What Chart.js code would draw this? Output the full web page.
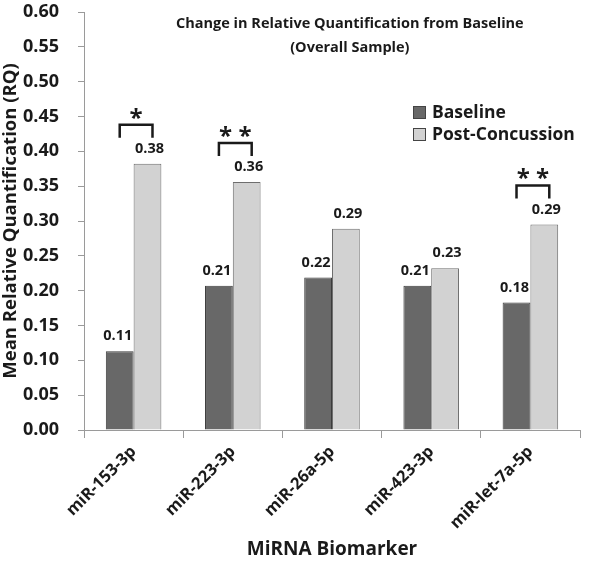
<!DOCTYPE html>
<html>
<head>
<meta charset="utf-8">
<script src="https://cdn.jsdelivr.net/npm/chart.js@4"></script>
<style>
  html, body { margin: 0; padding: 0; background: #fff; }
  #wrap { width: 600px; height: 561px; position: relative; }
</style>
</head>
<body>
<div id="wrap"><canvas id="chart"></canvas></div>
<script>
/* Change in relative quantification — grouped bars with significance brackets */

const categories     = ['miR-153-3p', 'miR-223-3p', 'miR-26a-5p', 'miR-423-3p', 'miR-let-7a-5p'];
const baseline       = [0.113, 0.207, 0.219, 0.207, 0.183];
const postConcussion = [0.382, 0.356, 0.289, 0.232, 0.295];
const baselineLabels = ['0.11', '0.21', '0.22', '0.21', '0.18'];
const postLabels     = ['0.38', '0.36', '0.29', '0.23', '0.29'];
const sigMarks       = ['*', '**', '', '', '**'];
const seriesNames    = ['Baseline', 'Post-Concussion'];
const titleLines     = ['Change in Relative Quantification from Baseline', '(Overall Sample)'];

const FONT = '"Open Sans", "Noto Sans", sans-serif';
const INK = '#1a1a1a';
const COL_BASE = '#686868';
const COL_POST = '#d2d2d2';

const overlay = {
  id: 'overlay',
  afterDatasetsDraw(chart) {
    const { ctx, chartArea } = chart;
    const m0 = chart.getDatasetMeta(0).data;
    const m1 = chart.getDatasetMeta(1).data;
    ctx.save();
    ctx.fillStyle = INK;
    ctx.textAlign = 'center';
    ctx.textBaseline = 'middle';

    /* value labels */
    ctx.font = 'bold 14.5px ' + FONT;
    m0.forEach((b, i) => ctx.fillText(baselineLabels[i], b.x - 2, b.y - 15));
    m1.forEach((b, i) => ctx.fillText(postLabels[i], b.x + 2, b.y - 15));

    /* significance brackets */
    ctx.strokeStyle = INK;
    ctx.lineWidth = 2.5;
    sigMarks.forEach((mark, i) => {
      if (!mark) return;
      const x0 = m0[i].x, x1 = m1[i].x + 5;
      const top = m1[i].y - 39;
      ctx.beginPath();
      ctx.moveTo(x0, top + 13);
      ctx.lineTo(x0, top);
      ctx.lineTo(x1, top);
      ctx.lineTo(x1, top + 13);
      ctx.stroke();
      ctx.font = 'bold 24px ' + FONT;
      ctx.fillText(mark.split('').join(' '), (x0 + x1) / 2, top - 6);
    });

    /* title */
    ctx.font = 'bold 14.5px ' + FONT;
    const cx = chartArea.left + (chartArea.right - chartArea.left) * 0.536;
    ctx.fillText(titleLines[0], cx, chartArea.top + 12);
    ctx.fillText(titleLines[1], cx, chartArea.top + 36);

    /* legend */
    ctx.font = 'bold 17.5px ' + FONT;
    ctx.textAlign = 'left';
    const lx = chartArea.right - 167;
    [COL_BASE, COL_POST].forEach((c, i) => {
      const ly = chartArea.top + 100 + i * 22;
      ctx.fillStyle = c;
      ctx.fillRect(lx, ly - 6, 13, 13);
      ctx.strokeStyle = '#444';
      ctx.lineWidth = 1;
      ctx.strokeRect(lx + 0.5, ly - 5.5, 12, 12);
      ctx.fillStyle = INK;
      ctx.fillText(seriesNames[i], lx + 19, ly + 1);
    });
    ctx.restore();
  }
};

new Chart(document.getElementById('chart'), {
  type: 'bar',
  data: {
    labels: categories,
    datasets: [
      { label: seriesNames[0], data: baseline, backgroundColor: COL_BASE, borderColor: '#3c3c3c', borderWidth: 1 },
      { label: seriesNames[1], data: postConcussion, backgroundColor: COL_POST, borderColor: '#6e6e6e', borderWidth: 1 },
    ],
  },
  options: {
    responsive: true,
    maintainAspectRatio: false,
    animation: false,
    layout: { padding: { top: 12, right: 20, left: 0, bottom: 0 } },
    plugins: { legend: { display: false }, tooltip: { enabled: false } },
    datasets: { bar: { categoryPercentage: 0.56, barPercentage: 1.0 } },
    scales: {
      x: {
        offset: true,
        grid: { offset: true, drawOnChartArea: false, tickLength: 8, color: '#9a9a9a' },
        border: { color: '#9a9a9a', width: 1 },
        ticks: { color: INK, font: { family: FONT, size: 16.5, weight: 'bold' }, minRotation: 45, maxRotation: 45, padding: 4 },
        title: { display: true, text: 'MiRNA Biomarker', color: INK, font: { family: FONT, size: 19, weight: 'bold' }, padding: { top: 4, bottom: 0 } },
        afterFit: s => { s.height = 131; },
      },
      y: {
        min: 0, max: 0.6,
        grid: { drawOnChartArea: false, tickLength: 6, color: '#9a9a9a' },
        border: { color: '#9a9a9a', width: 1 },
        ticks: { stepSize: 0.05, color: INK, padding: 19, font: { family: FONT, size: 18, weight: 'bold' },
                 callback: v => v.toFixed(2) },
        title: { display: true, text: 'Mean Relative Quantification (RQ)', color: INK, font: { family: FONT, size: 18.5, weight: 'bold' }, padding: { top: 0, bottom: 0 } },
        afterFit: s => { s.width = 84; s.paddingTop = 0; s.paddingBottom = 0; },
      },
    },
  },
  plugins: [overlay],
});
</script>
</body>
</html>
